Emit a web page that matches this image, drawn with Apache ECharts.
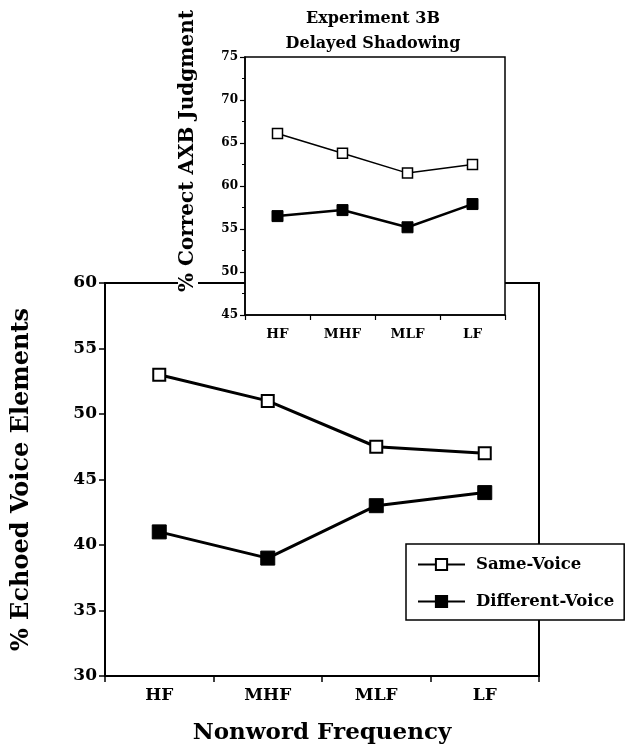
<!DOCTYPE html>
<html>
<head>
<meta charset="utf-8">
<script src="https://cdn.jsdelivr.net/npm/echarts@6/dist/echarts.min.js"></script>
<style>html,body{margin:0;padding:0;background:#fff}#c{width:626px;height:754px}</style>
</head>
<body>
<div id="c"></div>
<script>
var categories = ['HF', 'MHF', 'MLF', 'LF'];
var mainSame = [53, 51, 47.5, 47];
var mainDiff = [41, 39, 43, 44];
var insetSame = [66.1, 63.8, 61.5, 62.5];
var insetDiff = [56.5, 57.2, 55.2, 57.9];
var seriesNames = ['Same-Voice', 'Different-Voice'];
var insetTitle = 'Experiment 3B\nDelayed Shadowing';
var mainYName = '% Echoed Voice Elements';
var mainXName = 'Nonword Frequency';
var insetYName = '% Correct AXB Judgment';

var F = 'DejaVu Serif, serif';
var chart = echarts.init(document.getElementById('c'));
chart.setOption({
  animation: false,
  backgroundColor: '#fff',
  title: {
    text: insetTitle, left: 368, top: 1, textAlign: 'center',
    textStyle: {fontFamily: F, fontWeight: 'bold', fontSize: 16, lineHeight: 25, color: '#000'}
  },
  legend: {
    data: seriesNames, orient: 'vertical', left: 406, top: 544,
    itemWidth: 47, itemHeight: 14, itemGap: 20,
    padding: [12, 10, 10, 11],
    backgroundColor: '#fff', borderColor: '#000', borderWidth: 1.5,
    textStyle: {fontFamily: F, fontWeight: 'bold', fontSize: 16.5, color: '#000', padding: [0, 0, 0, 6]}
  },
  grid: [
    {left: 105, top: 283, width: 434, height: 393, show: true, borderColor: '#000', borderWidth: 2, backgroundColor: 'transparent', z: 0},
    {left: 245, top: 57, width: 260, height: 258, show: true, borderColor: '#000', borderWidth: 1.5, backgroundColor: '#fff', z: 1}
  ],
  xAxis: [
    {type: 'category', gridIndex: 0, data: categories, boundaryGap: true,
     axisLine: {lineStyle: {color: '#000', width: 2}},
     axisTick: {show: true, length: 6, lineStyle: {color: '#000', width: 1.5}},
     axisLabel: {fontFamily: F, fontWeight: 'bold', fontSize: 17, color: '#000', margin: 11},
     name: mainXName, nameLocation: 'middle', nameGap: 46,
     nameTextStyle: {fontFamily: F, fontWeight: 'bold', fontSize: 23, color: '#000'}},
    {type: 'category', gridIndex: 1, data: categories, boundaryGap: true, z: 3,
     axisLine: {lineStyle: {color: '#000', width: 1.5}},
     axisTick: {show: true, length: 5, lineStyle: {color: '#000', width: 1.2}},
     axisLabel: {fontFamily: F, fontWeight: 'bold', fontSize: 13.5, color: '#000', margin: 12}}
  ],
  yAxis: [
    {type: 'value', gridIndex: 0, min: 30, max: 60, interval: 5,
     axisLine: {show: true, lineStyle: {color: '#000', width: 2}},
     axisTick: {show: true, length: 6, lineStyle: {color: '#000', width: 1.5}},
     splitLine: {show: false},
     axisLabel: {fontFamily: F, fontWeight: 'bold', fontSize: 17, color: '#000', margin: 8},
     name: mainYName, nameLocation: 'middle', nameGap: 71,
     nameTextStyle: {fontFamily: F, fontWeight: 'bold', fontSize: 24, color: '#000'}},
    {type: 'value', gridIndex: 1, min: 45, max: 75, interval: 5, z: 3,
     axisLine: {show: true, lineStyle: {color: '#000', width: 1.5}},
     axisTick: {show: true, length: 5, lineStyle: {color: '#000', width: 1.2}},
     minorTick: {show: true, splitNumber: 2, length: 3, lineStyle: {color: '#000', width: 1}},
     splitLine: {show: false},
     axisLabel: {fontFamily: F, fontWeight: 'bold', fontSize: 12, color: '#000', margin: 7},
     name: insetYName, nameLocation: 'middle', nameGap: 47,
     nameTextStyle: {fontFamily: F, fontWeight: 'bold', fontSize: 20, color: '#000', backgroundColor: '#fff', padding: [0, 2, 0, 72]}}
  ],
  series: [
    {name: seriesNames[0], type: 'line', xAxisIndex: 0, yAxisIndex: 0, data: mainSame,
     symbol: 'rect', symbolSize: 12, lineStyle: {color: '#000', width: 3},
     itemStyle: {color: '#fff', borderColor: '#000', borderWidth: 2}, z: 5},
    {name: seriesNames[1], type: 'line', xAxisIndex: 0, yAxisIndex: 0, data: mainDiff,
     symbol: 'rect', symbolSize: 14, lineStyle: {color: '#000', width: 3},
     itemStyle: {color: '#000', borderColor: '#000', borderWidth: 1}, z: 5},
    {name: 'inset-same', type: 'line', xAxisIndex: 1, yAxisIndex: 1, data: insetSame,
     symbol: 'rect', symbolSize: 10, lineStyle: {color: '#000', width: 1.5},
     itemStyle: {color: '#fff', borderColor: '#000', borderWidth: 1.5}, z: 5},
    {name: 'inset-diff', type: 'line', xAxisIndex: 1, yAxisIndex: 1, data: insetDiff,
     symbol: 'rect', symbolSize: 11, lineStyle: {color: '#000', width: 2.5},
     itemStyle: {color: '#000', borderColor: '#000', borderWidth: 1}, z: 5}
  ]
});
</script>
</body>
</html>
